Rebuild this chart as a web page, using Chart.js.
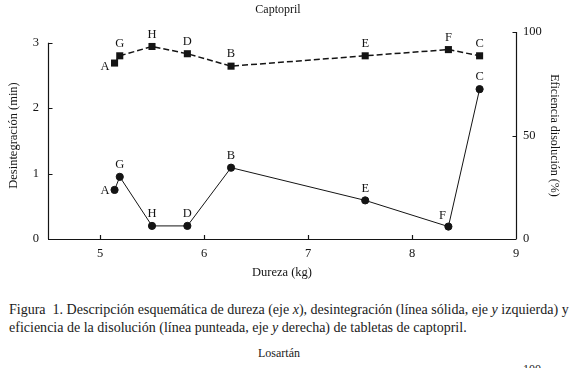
<!DOCTYPE html>
<html>
<head>
<meta charset="utf-8">
<script src="https://cdn.jsdelivr.net/npm/chart.js@4/dist/chart.umd.min.js"></script>
<style>
  body { margin: 0; background: #fff; width: 575px; height: 368px; overflow: hidden; position: relative; font-family: "Liberation Serif", "DejaVu Serif", serif; color: #1a1a1a; }
  #wrap { position: absolute; left: 0; top: 0; width: 575px; height: 280px; }
  .cap { position: absolute; left: 9px; font-size: 15px; white-space: nowrap; line-height: 18px; }
  .small { position: absolute; font-size: 12px; white-space: nowrap; }
</style>
</head>
<body>
<div id="wrap"><canvas id="grafico" width="575" height="280"></canvas></div>
<div class="cap" id="l1" style="top:301px">Figura&nbsp; 1. Descripción esquemática de dureza (eje <i>x</i>), desintegración (línea sólida, eje <i>y</i> izquierda) y</div>
<div class="cap" id="l2" style="top:319px">eficiencia de la disolución (línea punteada, eje <i>y</i> derecha) de tabletas de captopril.</div>
<div class="small" style="left:258px; top:346px">Losartán</div>
<div class="small" style="left:523px; top:362px">100</div>
<script>
// datos
const tabletas = ["A", "G", "H", "D", "B", "E", "F", "C"];
const dureza = [5.14, 5.19, 5.5, 5.84, 6.26, 7.55, 8.35, 8.65];
const desintegracion = [0.75, 0.95, 0.2, 0.2, 1.09, 0.59, 0.19, 2.29];
const eficiencia = [85, 88.5, 93, 89.5, 83.5, 88.5, 91.5, 88.5];
const ticksX = [5, 6, 7, 8, 9];
const ticksIzq = [0, 1, 2, 3];
const ticksDer = [0, 50, 100];

const negro = "#141414";
const fuente = "'Liberation Serif', 'DejaVu Serif', serif";

function puntos(ys) {
    return dureza.map((x, i) => ({ x: x, y: ys[i] }));
}

// ajusta el ancho del pie para que coincida con la imagen
function ajustar(id, ancho) {
    let el = document.getElementById(id);
    let w = el.getBoundingClientRect().width;
    let fs = 15 * ancho / w;
    el.style.fontSize = fs.toFixed(2) + "px";
}
ajustar("l1", 560);
document.getElementById("l2").style.fontSize = document.getElementById("l1").style.fontSize;

const ejes = {
    id: "ejes",
    afterDraw(chart) {
        let ctx = chart.ctx;
        let a = chart.chartArea;
        let sx = chart.scales.x, sl = chart.scales.yI, sr = chart.scales.yD;
        ctx.save();
        ctx.strokeStyle = negro;
        ctx.lineWidth = 1.2;
        ctx.beginPath();
        // eje x
        ctx.moveTo(a.left, a.bottom + 0.5);
        ctx.lineTo(a.right, a.bottom + 0.5);
        ticksX.forEach(v => {
            let px = Math.round(sx.getPixelForValue(v)) + 0.5;
            ctx.moveTo(px, a.bottom);
            ctx.lineTo(px, a.bottom - 4);
        });
        // eje izquierdo
        let lx = a.left + 0.5;
        ctx.moveTo(lx, sl.getPixelForValue(0));
        ctx.lineTo(lx, sl.getPixelForValue(3));
        ticksIzq.forEach(v => {
            let py = Math.round(sl.getPixelForValue(v)) + 0.5;
            ctx.moveTo(lx, py);
            ctx.lineTo(lx + 4, py);
        });
        // eje derecho
        let rx = a.right + 0.5;
        ctx.moveTo(rx, sr.getPixelForValue(0));
        ctx.lineTo(rx, sr.getPixelForValue(100));
        ticksDer.forEach(v => {
            let py = Math.round(sr.getPixelForValue(v)) + 0.5;
            ctx.moveTo(rx, py);
            ctx.lineTo(rx - 4, py);
        });
        ctx.stroke();

        // titulo
        ctx.fillStyle = negro;
        ctx.font = "12px " + fuente;
        ctx.textAlign = "center";
        ctx.textBaseline = "middle";
        ctx.fillText("Captopril", (a.left + a.right) / 2 - 4, 10);

        // letras de las tabletas
        ctx.font = "12.5px " + fuente;
        chart.data.datasets.forEach((ds, di) => {
            chart.getDatasetMeta(di).data.forEach((p, i) => {
                let t = tabletas[i];
                if (t === "A") {
                    ctx.textAlign = "right";
                    ctx.fillText(t, p.x - 5, p.y + (di === 1 ? 4 : 1));
                } else if (t === "F" && di === 0) {
                    ctx.textAlign = "center";
                    ctx.fillText(t, p.x - 6, p.y - 11);
                } else {
                    ctx.textAlign = "center";
                    ctx.fillText(t, p.x, p.y - 12);
                }
            });
        });
        ctx.restore();
    }
};

new Chart(document.getElementById("grafico").getContext("2d"), {
    type: "scatter",
    data: {
        datasets: [{
            label: "Desintegración",
            data: puntos(desintegracion),
            yAxisID: "yI",
            showLine: true,
            borderColor: negro,
            borderWidth: 1,
            pointStyle: "circle",
            pointRadius: 3.6,
            pointBackgroundColor: negro,
            pointBorderColor: negro,
            pointBorderWidth: 1
        }, {
            label: "Eficiencia",
            data: puntos(eficiencia),
            yAxisID: "yD",
            showLine: true,
            borderColor: negro,
            borderWidth: 1.5,
            borderDash: [6, 3],
            pointStyle: "rect",
            pointRadius: 5,
            pointBackgroundColor: negro,
            pointBorderColor: negro,
            pointBorderWidth: 0
        }]
    },
    options: {
        responsive: false,
        animation: false,
        devicePixelRatio: 1,
        layout: { padding: { top: 32, left: 0, right: 0, bottom: 0 } },
        plugins: { legend: { display: false }, tooltip: { enabled: false } },
        scales: {
            x: {
                type: "linear",
                min: 4.5,
                max: 9,
                afterBuildTicks: s => { s.ticks = ticksX.map(v => ({ value: v })); },
                afterFit: s => { s.height = 41; },
                grid: { display: false, drawTicks: false },
                border: { display: false },
                ticks: { color: negro, font: { family: fuente, size: 12.5 }, padding: 7, maxRotation: 0 },
                title: { display: true, text: "Dureza (kg)", color: negro, font: { family: fuente, size: 12.5 }, padding: { top: 2, bottom: 0 } }
            },
            yI: {
                position: "left",
                min: 0,
                max: 3.163,
                afterBuildTicks: s => { s.ticks = ticksIzq.map(v => ({ value: v })); },
                afterFit: s => { s.width = 48; },
                grid: { display: false, drawTicks: false },
                border: { display: false },
                ticks: { color: negro, font: { family: fuente, size: 12.5 }, padding: 9 },
                title: { display: true, text: "Desintegración (min)", color: negro, font: { family: fuente, size: 12.5 }, padding: { top: 6, bottom: 0 } }
            },
            yD: {
                position: "right",
                min: 0,
                max: 100,
                afterBuildTicks: s => { s.ticks = ticksDer.map(v => ({ value: v })); },
                afterFit: s => { s.width = 59; },
                grid: { display: false, drawTicks: false },
                border: { display: false },
                ticks: { color: negro, font: { family: fuente, size: 12.5 }, padding: 7 },
                title: { display: true, text: "Eficiencia disolución (%)", color: negro, font: { family: fuente, size: 12 }, padding: { top: 14, bottom: 0 } }
            }
        }
    },
    plugins: [ejes]
});
</script>
</body>
</html>
